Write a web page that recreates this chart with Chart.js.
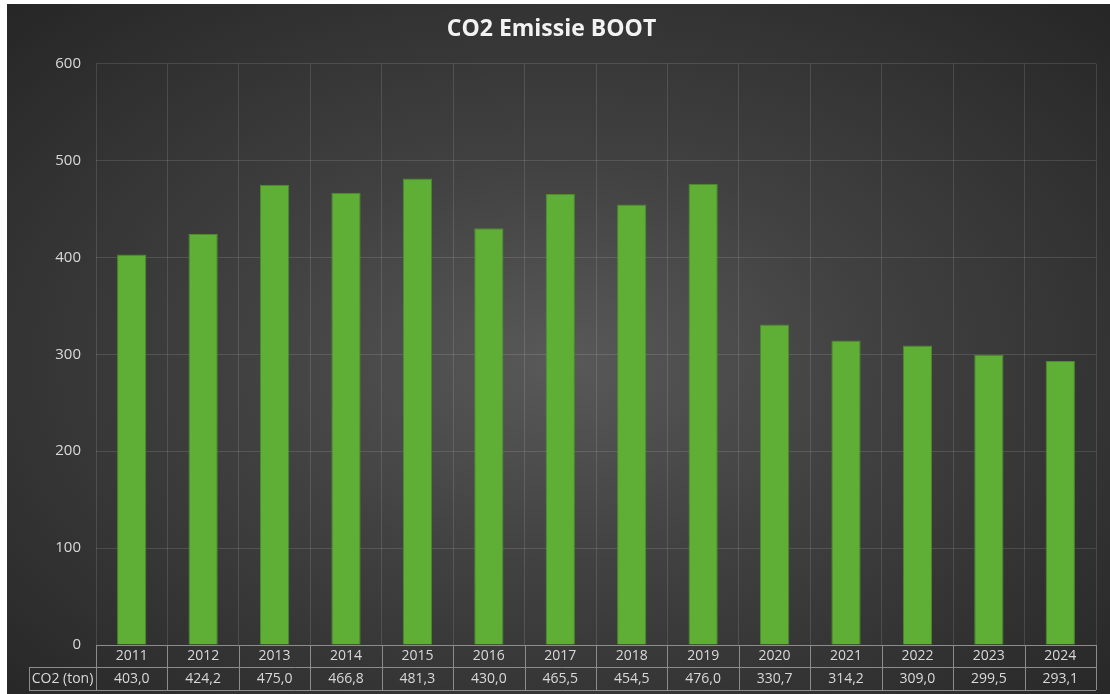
<!DOCTYPE html>
<html>
<head>
<meta charset="utf-8">
<title>CO2 Emissie BOOT</title>
<script src="https://cdn.jsdelivr.net/npm/chart.js@4/dist/chart.umd.min.js"></script>
<style>
    html, body { margin: 0; padding: 0; background: #ffffff; overflow: hidden; }
    #wrap {
        position: absolute;
        left: 7px;
        top: 4px;
        width: 1103px;
        height: 690px;
        background: radial-gradient(ellipse at 50% 52%, #595959 0%, #414141 40%, #262626 100%);
    }
    canvas { display: block; }
</style>
</head>
<body>
<div id="wrap"><canvas id="co2Chart" width="1103" height="690"></canvas></div>
<script>
const years = ['2011', '2012', '2013', '2014', '2015', '2016', '2017', '2018', '2019', '2020', '2021', '2022', '2023', '2024'];
const co2Ton = [403.0, 424.2, 475.0, 466.8, 481.3, 430.0, 465.5, 454.5, 476.0, 330.7, 314.2, 309.0, 299.5, 293.1];
const rowLabel = 'CO2 (ton)';

const FONT = "'Open Sans', 'Noto Sans', sans-serif";
const textColor = '#d9d9d9';
const tableLine = '#8c8c8c';

function formatNl(v) {
    return v.toFixed(1).replace('.', ',');
}

// Draws the data table under the x axis (years row comes from the axis ticks)
const dataTable = {
    id: 'dataTable',
    afterDraw(chart) {
        const ctx = chart.ctx;
        const x = chart.scales.x;
        const area = chart.chartArea;
        const top = area.bottom;
        const mid = top + 22;
        const bottom = top + 45;
        const labelLeft = 22;

        ctx.save();
        ctx.strokeStyle = tableLine;
        ctx.lineWidth = 1;

        ctx.beginPath();
        // horizontal lines
        ctx.moveTo(area.left, top + 0.5);
        ctx.lineTo(area.right, top + 0.5);
        ctx.moveTo(labelLeft, mid + 0.5);
        ctx.lineTo(area.right, mid + 0.5);
        ctx.moveTo(labelLeft, bottom + 0.5);
        ctx.lineTo(area.right, bottom + 0.5);
        // label cell left edge
        ctx.moveTo(labelLeft + 0.5, mid);
        ctx.lineTo(labelLeft + 0.5, bottom);
        // column boundaries
        for (let i = 0; i <= years.length; i++) {
            const px = Math.round(x.getPixelForValue(i - 0.5)) + 0.5;
            ctx.moveTo(px, top);
            ctx.lineTo(px, bottom);
        }
        ctx.stroke();

        ctx.fillStyle = textColor;
        ctx.font = `14px ${FONT}`;
        ctx.textAlign = 'center';
        ctx.textBaseline = 'middle';
        const rowY = (mid + bottom) / 2 + 1;
        co2Ton.forEach((v, i) => {
            ctx.fillText(formatNl(v), x.getPixelForValue(i), rowY);
        });
        ctx.fillText(rowLabel, (labelLeft + area.left) / 2, rowY);
        ctx.restore();
    }
};

const ctx = document.getElementById('co2Chart').getContext('2d');
const co2Chart = new Chart(ctx, {
    type: 'bar',
    data: {
        labels: years,
        datasets: [{
            label: rowLabel,
            data: co2Ton,
            backgroundColor: '#5fae36',
            borderColor: '#4b8c2b',
            borderWidth: 1,
            categoryPercentage: 1.0,
            barPercentage: 0.41
        }]
    },
    options: {
        responsive: false,
        animation: false,
        devicePixelRatio: 1,
        layout: {
            padding: { top: 0, right: 14, bottom: 4, left: 0 }
        },
        scales: {
            y: {
                min: 0,
                max: 600,
                border: { display: false },
                grid: { color: 'rgba(255,255,255,0.12)', drawTicks: false },
                ticks: {
                    stepSize: 100,
                    padding: 15,
                    color: textColor,
                    font: { family: FONT, size: 15 }
                },
                afterFit(scale) { scale.width = 89; }
            },
            x: {
                border: { display: false },
                grid: { color: 'rgba(255,255,255,0.12)', drawTicks: false, offset: true },
                ticks: {
                    padding: 3,
                    color: textColor,
                    font: { family: FONT, size: 14 }
                },
                afterFit(scale) { scale.height = 45; }
            }
        },
        plugins: {
            legend: { display: false },
            tooltip: { enabled: false },
            title: {
                display: true,
                text: 'CO2 Emissie BOOT',
                color: '#f2f2f2',
                font: { family: FONT, size: 23, weight: 'bold' },
                padding: { top: 12, bottom: 20 }
            }
        }
    },
    plugins: [dataTable]
});
</script>
</body>
</html>
